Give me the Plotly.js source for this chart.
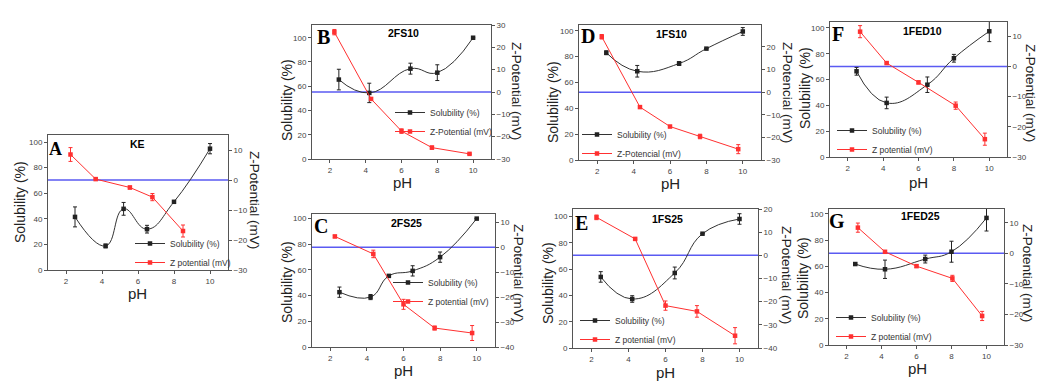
<!DOCTYPE html>
<html><head><meta charset="utf-8">
<script src="https://cdn.plot.ly/plotly-3.0.1.min.js"></script>
<style>html,body{margin:0;padding:0;background:#fff}#chart{width:1042px;height:381px}</style>
</head><body><div id="chart"></div>
<script>
// ---------------- data ----------------
const pHTicks = [2, 4, 6, 8, 10];
const solTicks = [0, 20, 40, 60, 80, 100];
const panelLetters = ['A', 'B', 'C', 'D', 'E', 'F', 'G'];
const panelNames = ['KE', '2FS10', '2FS25', '1FS10', '1FS25', '1FED10', '1FED25'];
const solLegend = 'Solubility (%)';
const zLegends = ['Z potential (mV)', 'Z-Potential (mV)', 'Z potential (mV)', 'Z-Potencial (mV)', 'Z potential (mV)', 'Z potential (mV)', 'Z potential (mV)'];
const zAxisTitles = ['Z-Potential (mV)', 'Z-Potential (mV)', 'Z-Potential (mV)', 'Z-Potencial (mV)', 'Z-Potential (mV)', 'Z-Potential (mV)', 'Z-Potential (mV)'];
const solAxisTitle = 'Solubility (%)';
const pHTitle = 'pH';

// A - KE
const keSolPH = [2.5, 4.2, 5.2, 6.5, 8.0, 10.0];
const keSol = [41.5, 18.8, 47.8, 31.9, 53.3, 94.8];
const keSolErr = [7.8, 1.5, 5, 3, 0, 4];
const keZPH = [2.25, 3.65, 5.55, 6.8, 8.5];
const keZ = [8.5, 0.3, -2.5, -5.7, -17];
const keZErr = [2.3, 0, 0.5, 1.2, 2];
// B - 2FS10
const fs2_10SolPH = [2.5, 4.2, 6.5, 8.0, 10.0];
const fs2_10Sol = [65.5, 54.5, 74.5, 71.2, 100];
const fs2_10SolErr = [8.5, 8, 4.5, 6.5, 0];
const fs2_10ZPH = [2.25, 4.3, 6.0, 7.7, 9.8];
const fs2_10Z = [26.8, -3.1, -17.5, -24.9, -27.7];
const fs2_10ZErr = [1.2, 0.5, 1, 0.7, 0.3];
// C - 2FS25
const fs2_25SolPH = [2.5, 4.2, 5.2, 6.5, 8.0, 10.0];
const fs2_25Sol = [42.7, 38.9, 55.4, 59.3, 70, 100];
const fs2_25SolErr = [4, 2, 0, 4, 4, 0];
const fs2_25ZPH = [2.25, 4.35, 6.0, 7.7, 9.75];
const fs2_25Z = [4.3, -2.7, -22.9, -32.4, -34.4];
const fs2_25ZErr = [0.5, 1.5, 2, 0.8, 3];
// D - 1FS10
const fs1_10SolPH = [2.5, 4.2, 6.5, 8.0, 10.0];
const fs1_10Sol = [83, 68.7, 74.7, 86.2, 99.5];
const fs1_10SolErr = [1.5, 4.5, 1.5, 0, 3];
const fs1_10ZPH = [2.25, 4.35, 6.0, 7.65, 9.75];
const fs1_10Z = [24.5, -6.6, -15.2, -19.6, -25.2];
const fs1_10ZErr = [1, 0.5, 0.5, 1, 2];
// E - 1FS25
const fs1_25SolPH = [2.5, 4.2, 6.5, 8.0, 10.0];
const fs1_25Sol = [54.1, 37.3, 57.1, 87, 98.2];
const fs1_25SolErr = [4, 2.5, 4.5, 0, 4];
const fs1_25ZPH = [2.27, 4.36, 6.0, 7.7, 9.76];
const fs1_25Z = [16.4, 7.1, -21.7, -24.2, -34.7];
const fs1_25ZErr = [1, 0.3, 2, 2.5, 3.5];
// F - 1FED10
const fed10SolPH = [2.5, 4.2, 6.5, 8.0, 10.0];
const fed10Sol = [66.4, 41.9, 56, 76.5, 97.4];
const fed10SolErr = [3, 4.5, 6, 3, 8];
const fed10ZPH = [2.7, 4.2, 6.0, 8.1, 9.75];
const fed10Z = [11.5, 1.1, -5.3, -13, -24.1];
const fed10ZErr = [2, 0.3, 0.5, 1.2, 2];
// G - 1FED25
const fed25SolPH = [2.5, 4.2, 6.5, 8.0, 10.0];
const fed25Sol = [61.8, 57.8, 65.6, 71.2, 97];
const fed25SolErr = [0.8, 7, 3, 8, 10];
const fed25ZPH = [2.65, 4.2, 6.0, 8.05, 9.75];
const fed25Z = [8.4, 0.5, -4.2, -8.2, -20.5];
const fed25ZErr = [1.5, 0.3, 0.4, 1, 1.5];
// zero reference line of the Z-potential axis
const zReference = 0;

const solSeries = [
  [keSolPH, keSol, keSolErr], [fs2_10SolPH, fs2_10Sol, fs2_10SolErr], [fs2_25SolPH, fs2_25Sol, fs2_25SolErr],
  [fs1_10SolPH, fs1_10Sol, fs1_10SolErr], [fs1_25SolPH, fs1_25Sol, fs1_25SolErr],
  [fed10SolPH, fed10Sol, fed10SolErr], [fed25SolPH, fed25Sol, fed25SolErr]
];
const zSeries = [
  [keZPH, keZ, keZErr], [fs2_10ZPH, fs2_10Z, fs2_10ZErr], [fs2_25ZPH, fs2_25Z, fs2_25ZErr],
  [fs1_10ZPH, fs1_10Z, fs1_10ZErr], [fs1_25ZPH, fs1_25Z, fs1_25ZErr],
  [fed10ZPH, fed10Z, fed10ZErr], [fed25ZPH, fed25Z, fed25ZErr]
];

// ---------------- layout (pixel geometry) ----------------
const W = 1042, H = 381;
const px = v => v / W;
const py = v => 1 - v / H;

const geo = [
  {box: [48, 228, 135, 270], sol: [0, 105.5], z: [-30, 15], letter: [55.5, 149, 18], name: [137, 144],
   solT: [20, 202], pHT: [137, 293], zT: [255, 200], leg: [130, 229]},
  {box: [312, 491, 25, 159], sol: [0, 110.5], z: [-30, 30], letter: [323.5, 37, 20], name: [403, 33],
   solT: [287, 100], pHT: [402, 182], zT: [517, 91], leg: [390, 98]},
  {box: [312, 495, 214, 347], sol: [0, 103.6], z: [-40, 13.3], letter: [321, 226, 20], name: [406, 223],
   solT: [287, 282], pHT: [403, 370], zT: [519, 273], leg: [388, 268]},
  {box: [579, 761, 25, 160], sol: [0, 104.5], z: [-30, 29.7], letter: [588, 36.5, 20], name: [671, 33.5],
   solT: [553, 102], pHT: [670, 183], zT: [787, 92], leg: [577, 120]},
  {box: [573, 758, 209, 348], sol: [0, 105.8], z: [-40, 20], letter: [581, 222.5, 20], name: [667.5, 218.5],
   solT: [548, 283], pHT: [665, 372], zT: [787, 275], leg: [575, 306]},
  {box: [830, 1007, 22, 157], sol: [0, 104.6], z: [-30, 14.7], letter: [838, 34, 20], name: [922, 31],
   solT: [805, 88], pHT: [918, 182], zT: [1031, 93], leg: [832, 116]},
  {box: [829, 1004, 209, 345], sol: [0, 103.8], z: [-30, 14.5], letter: [837, 221, 20], name: [920, 216],
   solT: [803, 278], pHT: [917, 368], zT: [1028, 273], leg: [831, 303]}
];

const FONT = 'Liberation Sans, Arial, sans-serif';
const SERIF = 'Liberation Serif, Times New Roman, serif';
const AX = '#555';
const SOLC = '#222';
const ZC = '#ff3030';
const ZEROC = '#5a5af2';

const traces = [];
const layout = {
  width: W, height: H,
  margin: {l: 0, r: 0, t: 0, b: 0},
  paper_bgcolor: '#fff', plot_bgcolor: 'rgba(0,0,0,0)',
  font: {family: FONT, color: '#222'},
  annotations: [], shapes: []
};

geo.forEach((g, i) => {
  const xn = i + 1, yl = 2 * i + 1, yr = 2 * i + 2;
  const xid = xn === 1 ? 'x' : 'x' + xn;
  const ylid = yl === 1 ? 'y' : 'y' + yl;
  const yrid = 'y' + yr;
  const xkey = xn === 1 ? 'xaxis' : 'xaxis' + xn;
  const ylkey = yl === 1 ? 'yaxis' : 'yaxis' + yl;
  const yrkey = 'yaxis' + yr;
  const legKey = i === 0 ? 'legend' : 'legend' + (i + 1);
  const [L, R, T, B] = g.box;
  const tickfont = {family: FONT, size: 8, color: '#444'};

  layout[xkey] = {
    domain: [px(L), px(R)], anchor: ylid, range: [1, 11], tickvals: pHTicks,
    showline: true, mirror: true, linecolor: AX, linewidth: 1,
    ticks: 'outside', ticklen: 3, tickcolor: AX, tickfont: tickfont,
    showgrid: false, zeroline: false, fixedrange: true
  };
  layout[ylkey] = {
    domain: [py(B), py(T)], anchor: xid, range: g.sol, tickvals: solTicks,
    showline: true, linecolor: AX, linewidth: 1,
    ticks: 'outside', ticklen: 3, tickcolor: AX, tickfont: tickfont,
    showgrid: false, zeroline: false, fixedrange: true
  };
  layout[yrkey] = {
    domain: [py(B), py(T)], anchor: xid, overlaying: ylid, side: 'right', range: g.z,
    tick0: 0, dtick: 10,
    showline: true, linecolor: AX, linewidth: 1,
    ticks: 'outside', ticklen: 3, tickcolor: AX, tickfont: tickfont,
    showgrid: false, zeroline: false, fixedrange: true
  };
  layout[legKey] = {
    x: px(g.leg[0]), y: py(g.leg[1]), xanchor: 'left', yanchor: 'top',
    bgcolor: 'rgba(0,0,0,0)', borderwidth: 0, itemwidth: 30,
    font: {family: FONT, size: 8.5, color: '#333'}
  };

  layout.shapes.push({
    type: 'line', xref: xid + ' domain', x0: 0, x1: 1, yref: yrid, y0: zReference, y1: zReference,
    line: {color: ZEROC, width: 1.5}, layer: 'below'
  });

  const s = solSeries[i], z = zSeries[i];
  traces.push({
    type: 'scatter', mode: 'lines+markers', name: solLegend, legend: legKey,
    x: s[0], y: s[1], xaxis: xid, yaxis: ylid,
    line: {color: '#333', width: 1, shape: 'spline', smoothing: 1.3},
    marker: {symbol: 'square', size: 4.5, color: SOLC},
    error_y: {type: 'data', array: s[2], visible: true, color: SOLC, thickness: 1, width: 2}
  });
  traces.push({
    type: 'scatter', mode: 'lines+markers', name: zLegends[i], legend: legKey,
    x: z[0], y: z[1], xaxis: xid, yaxis: yrid,
    line: {color: ZC, width: 1},
    marker: {symbol: 'square', size: 4.5, color: ZC},
    error_y: {type: 'data', array: z[2], visible: true, color: ZC, thickness: 1, width: 2}
  });

  const ann = (text, x, y, opts) => layout.annotations.push(Object.assign({
    text: text, x: px(x), y: py(y), xref: 'paper', yref: 'paper',
    xanchor: 'center', yanchor: 'middle', showarrow: false
  }, opts));
  ann('<b>' + panelLetters[i] + '</b>', g.letter[0], g.letter[1], {font: {family: SERIF, size: g.letter[2], color: '#000'}});
  ann('<b>' + panelNames[i] + '</b>', g.name[0], g.name[1], {font: {family: FONT, size: 10.5, color: '#000'}});
  ann(solAxisTitle, g.solT[0], g.solT[1], {textangle: -90, font: {family: FONT, size: 14, color: '#222'}});
  ann(pHTitle, g.pHT[0], g.pHT[1], {font: {family: FONT, size: 15, color: '#222'}});
  ann(zAxisTitles[i], g.zT[0], g.zT[1], {textangle: 90, font: {family: FONT, size: 13.5, color: '#222'}});
});

Plotly.newPlot('chart', traces, layout, {staticPlot: true, displayModeBar: false});
</script>
</body></html>
